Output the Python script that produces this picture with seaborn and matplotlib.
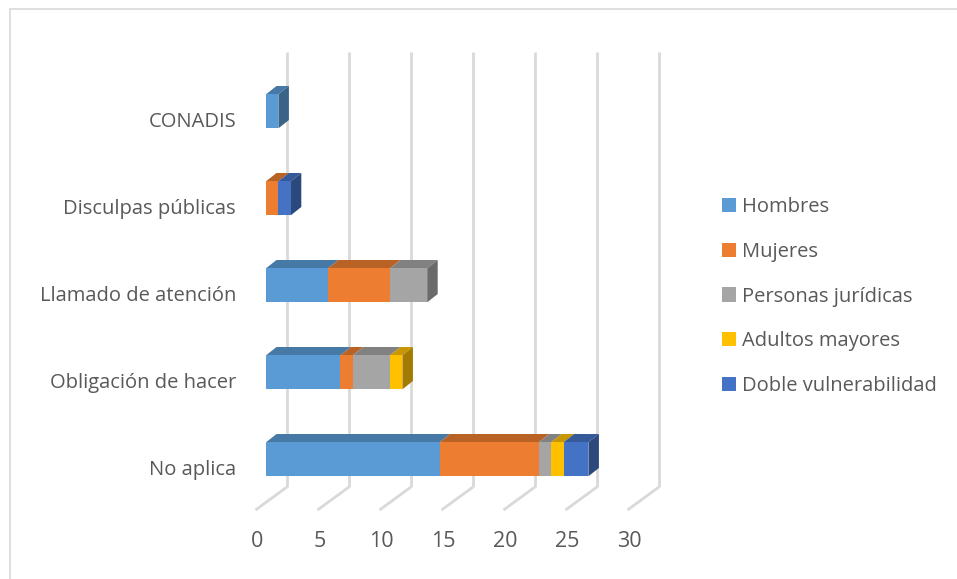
import numpy as np
import pandas as pd
import matplotlib
matplotlib.use("Agg")
import matplotlib.pyplot as plt
from matplotlib.patches import Polygon, Patch
from matplotlib.lines import Line2D
import seaborn as sns

# ---- data -------------------------------------------------------------
categories = ["CONADIS", "Disculpas públicas", "Llamado de atención",
              "Obligación de hacer", "No aplica"]
series_names = ["Hombres", "Mujeres", "Personas jurídicas",
                "Adultos mayores", "Doble vulnerabilidad"]
hombres = [1, 0, 5, 6, 14]
mujeres = [0, 1, 5, 1, 8]
juridicas = [0, 0, 3, 3, 1]
adultos = [0, 0, 0, 1, 1]
doble = [0, 1, 0, 0, 2]
x_ticks = [0, 5, 10, 15, 20, 25, 30]

colors = ["#5B9BD5", "#ED7D31", "#A5A5A5", "#FFC000", "#4472C4"]
TEXT = "#595959"
GRID = "#D9D9D9"
FS = 14.5
FS_TICK = 15.5

sns.set_theme(style="white")
plt.rcParams["font.family"] = ["Open Sans", "DejaVu Sans"]

W, H, DPI = 957, 579, 100
fig = plt.figure(figsize=(W / DPI, H / DPI), dpi=DPI)
ax = fig.add_axes([0, 0, 1, 1])

# pixel geometry of the front plane of the bars
PX_PER_UNIT = 12.4
X0_PX = 266.0          # value 0 on the bar front plane
ROW0_PX = 111.3        # centre of first category
ROW_PX = 87.0          # distance between categories


def vx(px):
    return (px - X0_PX) / PX_PER_UNIT


def cy(py):
    return (py - ROW0_PX) / ROW_PX


# perspective offset of one "depth third"
DV = 10.5 / PX_PER_UNIT
DC = -8.3 / ROW_PX

df = pd.DataFrame({"categoria": categories, "Hombres": hombres, "Mujeres": mujeres,
                   "Personas jurídicas": juridicas, "Adultos mayores": adultos,
                   "Doble vulnerabilidad": doble})
vals = df[series_names].to_numpy(dtype=float)
cum = np.cumsum(vals, axis=1)

# ---- back wall gridlines and floor ------------------------------------
for t in x_ticks:
    xb = t + 2 * DV            # back wall
    xf = t - DV                # front edge of floor
    ax.plot([xb, xb], [cy(52), cy(487)], color=GRID, lw=2.0, zorder=0,
            solid_capstyle="butt")
    ax.plot([xb, xf], [cy(487), cy(510)], color=GRID, lw=2.0, zorder=0,
            solid_capstyle="butt")
    ax.text(xf + vx(258) - vx(256), cy(541.5), str(t), ha="center", va="center",
            fontsize=FS_TICK, color=TEXT)

# ---- front faces: stacked bars drawn from the total downwards ---------
BAR_W = 34 / ROW_PX
for j in range(len(series_names) - 1, -1, -1):
    sns.barplot(x=cum[:, j], y=categories, orient="h", color=colors[j],
                saturation=1, width=BAR_W, errorbar=None, linewidth=0,
                ax=ax, zorder=3)

rects = ax.patches[:len(categories)]
ycent = [r.get_y() + r.get_height() / 2 for r in rects]
hh = rects[0].get_height()


def shade(c, f):
    rgb = np.array(matplotlib.colors.to_rgb(c))
    return tuple(rgb * f)


# ---- top and side faces ----------------------------------------------
for i in range(len(categories)):
    top = ycent[i] - hh / 2
    bot = ycent[i] + hh / 2
    left = 0.0
    last = None
    for j in range(len(series_names)):
        v = vals[i, j]
        if v <= 0:
            continue
        right = left + v
        poly = Polygon([(left, top), (right, top), (right + DV, top + DC),
                        (left + DV, top + DC)], closed=True,
                       facecolor=shade(colors[j], 0.78), edgecolor="none",
                       zorder=2)
        ax.add_patch(poly)
        last = (right, j)
        left = right
    if last is not None:
        R, j = last
        side = Polygon([(R, top), (R + DV, top + DC), (R + DV, bot + DC),
                        (R, bot)], closed=True,
                       facecolor=shade(colors[j], 0.64), edgecolor="none",
                       zorder=2)
        ax.add_patch(side)
    ax.text(vx(236), ycent[i] + cy(122) - cy(111.3), categories[i],
            ha="right", va="center", fontsize=FS, color=TEXT)

ax.set_xlim(vx(0), vx(W))
ax.set_ylim(cy(H), cy(0))
ax.axis("off")

# ---- legend -----------------------------------------------------------
handles = [Patch(facecolor=c, edgecolor="none") for c in colors]
leg = fig.legend(handles, series_names, loc="upper left",
                 bbox_to_anchor=(722 / W, 1 - 197 / H), frameon=False,
                 fontsize=FS, handlelength=0.7, handleheight=0.7,
                 handletextpad=0.3, labelspacing=1.23, borderpad=0,
                 borderaxespad=0)
for t in leg.get_texts():
    t.set_color(TEXT)

# ---- chart border -----------------------------------------------------
fig.add_artist(Line2D([9.5 / W, 9.5 / W], [0, 1 - 8.5 / H], color=GRID,
                      lw=1.2, transform=fig.transFigure))
fig.add_artist(Line2D([9.5 / W, 1], [1 - 8.5 / H, 1 - 8.5 / H], color=GRID,
                      lw=1.2, transform=fig.transFigure))

fig.savefig("out.png", dpi=DPI)
